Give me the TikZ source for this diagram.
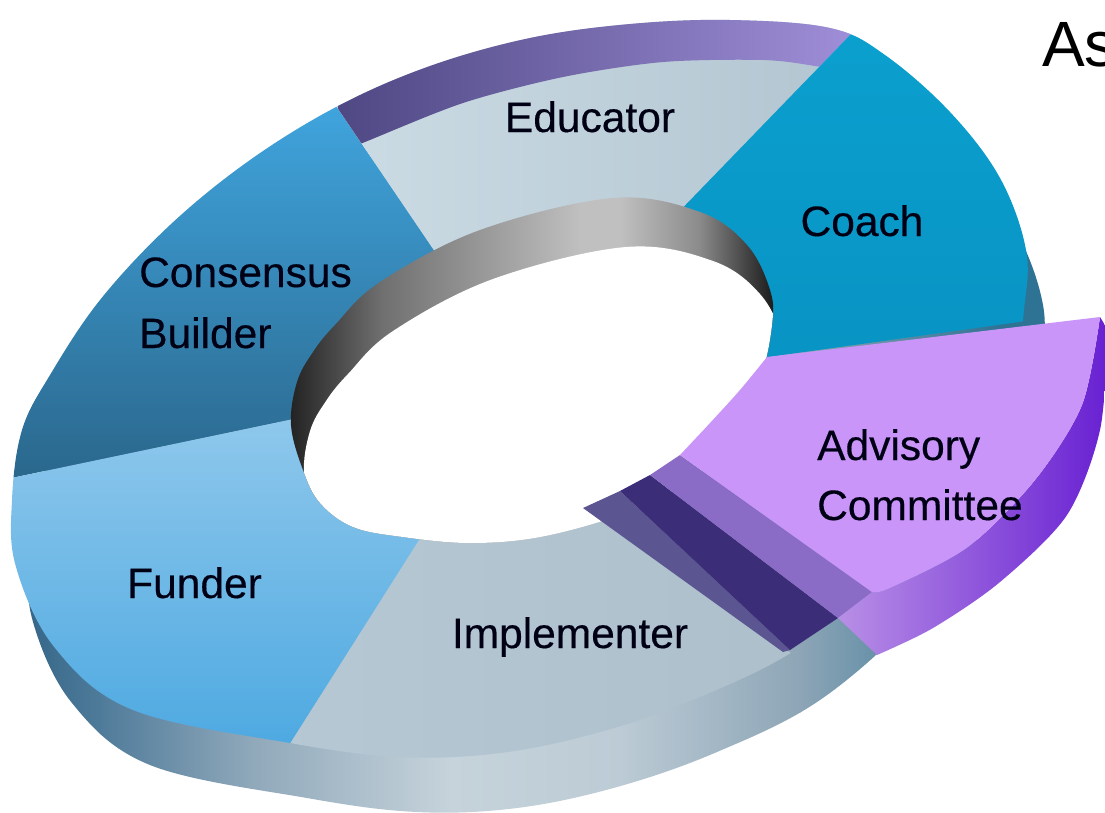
\documentclass[tikz,border=0pt]{standalone}
\usepackage{fontspec}
\setmainfont{Liberation Sans}
\newfontfamily\lblfont{Liberation Sans}[FakeBold=0.35]
\definecolor{consTop}{HTML}{40A5DE}
\definecolor{consBot}{HTML}{2A668B}
\definecolor{eduL}{HTML}{CCDCE5}
\definecolor{eduM}{HTML}{D8E4EA}
\definecolor{eduR}{HTML}{B2C5D0}
\definecolor{coachT}{HTML}{0BA0CF}
\definecolor{coachB}{HTML}{0893C3}
\definecolor{fundTop}{HTML}{90C8EC}
\definecolor{fundBot}{HTML}{4DA9E1}
\definecolor{implL}{HTML}{B6C8D3}
\definecolor{implM}{HTML}{D0DDE4}
\definecolor{implR}{HTML}{ACBFCB}
\definecolor{stripL}{HTML}{4D4782}
\definecolor{stripR}{HTML}{A08FD9}
\definecolor{advTop}{HTML}{C995F8}
\definecolor{advWallL}{HTML}{B88FE6}
\definecolor{advWallR}{HTML}{6820D2}
\definecolor{advBand}{HTML}{8A6BC6}
\definecolor{navyBand}{HTML}{3B2D78}
\definecolor{slateBand}{HTML}{5B5591}
\definecolor{wA}{HTML}{2C5F82}
\definecolor{wB}{HTML}{4F7B9A}
\definecolor{wC}{HTML}{8FA8BA}
\definecolor{wD}{HTML}{C6D3DB}
\definecolor{wE}{HTML}{BCCBD5}
\definecolor{wF}{HTML}{8DA5B6}
\definecolor{wG}{HTML}{2E7294}
\definecolor{bA}{HTML}{1A1A1A}
\definecolor{bB}{HTML}{6F6F6F}
\definecolor{bC}{HTML}{C0C0C0}
\definecolor{bD}{HTML}{8A8A8A}
\definecolor{bE}{HTML}{111111}
\begin{document}
\begin{tikzpicture}[x=1pt,y=-1pt,
  lbl/.style={font=\lblfont\fontsize{42.5}{48}\selectfont, text=black!92!blue, inner sep=0pt}]
\useasboundingbox (0,0) rectangle (1105,812);
\def\OUTER{plot[smooth cycle, tension=0.6] coordinates {(338,106) (430,66) (530,38) (630,24) (730,20) (830,28) (885,55) (950,112) (1000,178) (1026,250) (1024,310) (1012,390) (970,470) (900,560) (803,645) (700,697) (600,732) (500,753) (400,757) (290,743) (133,710) (55,648) (16,567) (12,500) (22,430) (50,375) (100,300) (170,225) (250,160)}}
\def\INNER{plot[smooth cycle, tension=0.6] coordinates {(613,198) (700,212) (747,245) (770,290) (772,325) (760,380) (730,447) (680,487) (620,515) (540,537) (470,543) (403,537) (353,527) (320,503) (303,470) (291,425) (297,382) (313,352) (335,325) (380,282) (480,230)}}
% radial lines
\coordinate (C) at (531,380);
\coordinate (i1) at (461,290); \coordinate (f1) at (195,-102);
\coordinate (i2) at (640,252); \coordinate (f2) at (1066,-188);
\coordinate (i3) at (711,365); \coordinate (f3) at (1327,279);
\coordinate (i4) at (542,480); \coordinate (f4) at (1093,863);
\coordinate (i5) at (455,483); \coordinate (f5) at (100,1043);
\coordinate (i6) at (332,411); \coordinate (f6) at (-266,536);
% outer side wall
\begin{scope}
  \clip[shift={(17,55)}] \OUTER;
  \shade[left color=wA,right color=wB] (0,0) rectangle (101,812);
  \shade[left color=wB,right color=wC] (100,0) rectangle (251,812);
  \shade[left color=wC,right color=wD] (250,0) rectangle (451,812);
  \shade[left color=wD,right color=wE] (450,0) rectangle (621,812);
  \shade[left color=wE,right color=wF] (620,0) rectangle (801,812);
  \shade[left color=wF,right color=wG] (800,0) rectangle (1001,812);
  \fill[wG] (1000,0) rectangle (1105,812);
\end{scope}
% Consensus Builder
\begin{scope}
  \clip \OUTER;
  \clip (C) -- (i6) -- (f6) -- (-300,-200) -- (f1) -- (i1) -- cycle;
  \shade[top color=consTop,bottom color=consBot] (0,100) rectangle (460,485);
\end{scope}
% Educator
\begin{scope}
  \clip \OUTER;
  \clip (C) -- (i1) -- (f1) -- (630,-300) -- (f2) -- (i2) -- cycle;
  \shade[left color=eduL,middle color=eduM,right color=eduR] (330,15) rectangle (850,260);
  \shade[left color=stripL,right color=stripR] plot[smooth] coordinates {(340,152) (365,142) (463,103) (563,77) (663,62) (763,60) (815,66) (860,75)} -- (860,-50) -- (330,-50) -- cycle;
\end{scope}
% Coach
\begin{scope}
  \clip \OUTER;
  \clip (C) -- (i2) -- (f2) -- (1400,-200) -- (f3) -- (i3) -- cycle;
  \shade[top color=coachT,bottom color=coachB] (670,20) rectangle (1060,380);
\end{scope}
% Implementer
\begin{scope}
  \clip \OUTER;
  \clip (C) -- (i4) -- (f4) -- (600,1100) -- (f5) -- (i5) -- cycle;
  \shade[left color=implL,middle color=implM,right color=implR] (270,470) rectangle (820,770);
\end{scope}
% Funder
\begin{scope}
  \clip \OUTER;
  \clip (C) -- (i5) -- (f5) -- (-300,1000) -- (f6) -- (i6) -- cycle;
  \shade[top color=fundTop,bottom color=fundBot] (0,410) rectangle (440,750);
\end{scope}
% inner wall and hole
\begin{scope}
  \clip \INNER;
  \shade[left color=bA,right color=bB] (280,150) rectangle (381,560);
  \shade[left color=bB,right color=bC] (380,150) rectangle (581,560);
  \fill[bC] (580,150) rectangle (621,560);
  \shade[left color=bC,right color=bD] (620,150) rectangle (701,560);
  \shade[left color=bD,right color=bE] (700,150) rectangle (780,560);
  \fill[white, shift={(13,49)}] \INNER;
\end{scope}
% exposed cut faces next to the pulled-out segment
\fill[slateBand] (583,508) -- (620,491) -- (790,650) -- (783,652) -- cycle;
\fill[navyBand] (620,491) -- (650,475) -- (838,618) -- (790,650) -- cycle;
\fill[advBand] (650,475) -- (680,455) -- (872,592) -- (838,618) -- cycle;
% Advisory Committee segment
\shade[left color=advWallL,right color=advWallR] (872,592) -- (838,618) -- (877,655)
  -- plot[smooth] coordinates {(877,655) (933,628) (1000,582) (1067,515) (1100,430) (1108,330)}
  -- (1100,317)
  -- plot[smooth] coordinates {(1100,317) (1082,405) (1035,480) (968,547) (890,588) (872,592)} -- cycle;
\fill[advTop] (767,357) -- (1100,317)
  -- plot[smooth] coordinates {(1100,317) (1082,405) (1035,480) (968,547) (890,588) (872,592)}
  -- (680,455) -- plot[smooth] coordinates {(680,455) (710,423) (740,390) (767,357)} -- cycle;
% labels
\node[lbl, anchor=base] (edu) at (590,132) {Educator};
\node[lbl, anchor=base] (coach) at (862,236) {Coach};
\node[lbl, anchor=base west] (cons1) at (139,287) {Consensus};
\node[lbl, anchor=base west] (cons2) at (139,348) {Builder};
\node[lbl, anchor=base west] (adv1) at (817,460) {Advisory};
\node[lbl, anchor=base west] (adv2) at (817,520) {Committee};
\node[lbl, anchor=base west] (fund) at (127,598) {Funder};
\node[lbl, anchor=base] (impl) at (570,648) {Implementer};
\node[anchor=base west, inner sep=0pt, font=\fontsize{64}{72}\selectfont] (as) at (1042,66) {As};
\end{tikzpicture}
\end{document}
